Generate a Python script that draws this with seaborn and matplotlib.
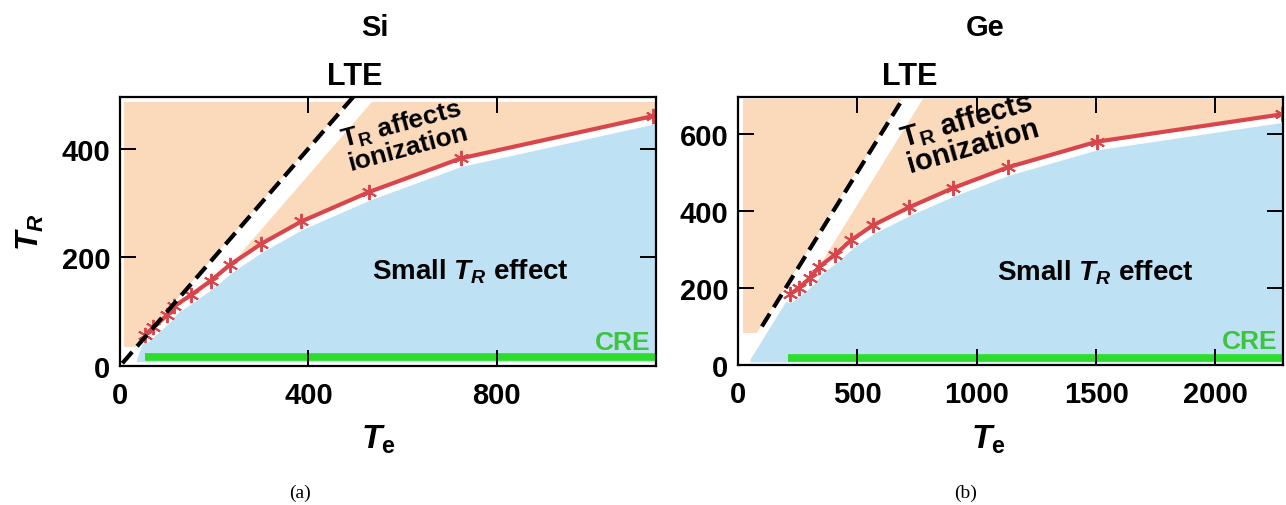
import matplotlib
matplotlib.use("Agg")
import matplotlib.pyplot as plt
from matplotlib.transforms import ScaledTranslation
import seaborn as sns

# Boundary where the radiation temperature T_R starts to affect ionization
si_te = [53, 71, 99, 115, 150, 193, 233, 300, 385, 528, 723, 1132]
si_tr = [57, 71, 93, 110, 130, 157, 186, 225, 266, 320, 382, 460]
ge_te = [218, 255, 302, 340, 406, 472, 564, 717, 901, 1132, 1502, 2277]
ge_tr = [183, 200, 226, 255, 286, 323, 362, 409, 459, 513, 579, 650]

# LTE line (T_R = T_e): drawn T_e span in each panel
si_lte = [5, 500]
ge_lte = [100, 700]

# CRE regime: start of T_e range and T_R level of the bar
si_cre = (53, 16)
ge_cre = (210, 17)

si_xticks = [0, 400, 800]
si_yticks = [0, 200, 400]
ge_xticks = [0, 500, 1000, 1500, 2000]
ge_yticks = [0, 200, 400, 600]

titles = ["Si", "Ge"]
captions = ["(a)", "(b)"]

PEACH = "#FBDABB"
BLUE = "#BEE1F3"
RED = "#D8464C"
GREEN = "#2EDC2E"
CRE_TEXT = "#3DC43D"

sns.set_theme(style="white")
plt.rcParams["font.family"] = ["Liberation Sans", "DejaVu Sans"]
plt.rcParams["font.weight"] = "bold"
plt.rcParams["text.color"] = "black"
plt.rcParams["xtick.color"] = "black"
plt.rcParams["ytick.color"] = "black"
plt.rcParams["mathtext.fontset"] = "custom"
plt.rcParams["mathtext.rm"] = "Liberation Sans:bold"
plt.rcParams["mathtext.it"] = "Liberation Sans:italic:bold"
plt.rcParams["mathtext.bf"] = "Liberation Sans:bold"

W, H = 1286, 506
fig = plt.figure(figsize=(W / 100, H / 100), dpi=100)


def fx(px):
    return px / W


def fy(py):
    return 1 - py / H


ax_si = fig.add_axes([fx(120), fy(367), fx(656) - fx(120), fy(98) - fy(367)])
ax_ge = fig.add_axes([fx(738), fy(366), fx(1283) - fx(738), fy(98) - fy(366)])


def draw_panel(ax, te, tr, lte, cre, xmax, ymax, xticks, yticks,
               corner, floor, top, left, band_shift):
    ax.set_xlim(0, xmax)
    ax.set_ylim(0, ymax)

    # peach background: T_R matters
    ax.fill_between([left, xmax], floor, top, color=PEACH, lw=0, zorder=1)

    # white band running along the LTE diagonal
    shift = ScaledTranslation(band_shift[0] / 72, band_shift[1] / 72, fig.dpi_scale_trans)
    ax.plot([-ymax, 2 * ymax], [-ymax, 2 * ymax], color="white", lw=13,
            solid_capstyle="butt", transform=ax.transData + shift, zorder=2)

    # blue region below the boundary: small T_R effect
    bx = [corner[0]] + te + [xmax]
    by = [corner[1]] + tr + [tr[-1]]
    ax.fill_between(bx, 8, by, color=BLUE, lw=0, zorder=3)

    # white halo under the boundary curve
    down = ScaledTranslation(0, -2.5 / 72, fig.dpi_scale_trans)
    ax.plot(te, tr, color="white", lw=7.5, transform=ax.transData + down,
            solid_joinstyle="round", zorder=4)

    sns.lineplot(x=te, y=tr, ax=ax, color=RED, lw=3, marker=(6, 2, 0),
                 markersize=11, markeredgecolor=RED, markeredgewidth=1.4,
                 sort=False, zorder=6)

    ax.plot(lte, lte, color="black", lw=3, dashes=(3.6, 1.8),
            dash_capstyle="butt", zorder=7)

    ax.plot([cre[0], xmax], [cre[1], cre[1]], color=GREEN, lw=5.5,
            solid_capstyle="butt", zorder=5)

    ax.set_xticks(xticks)
    ax.set_yticks(yticks)
    ax.tick_params(direction="in", length=11.5, width=1.4, bottom=True, left=True,
                   top=True, right=True, labelsize=21, pad=7, colors="black")
    ax.tick_params(axis="x", pad=11)
    ax.xaxis.set_zorder(11)
    ax.yaxis.set_zorder(11)
    for sp in ax.spines.values():
        sp.set_color("black")
        sp.set_linewidth(1.6)
        sp.set_zorder(12)
    ax.set_xlabel("")
    ax.set_ylabel("")


draw_panel(ax_si, si_te, si_tr, si_lte, si_cre, 1138, 495, si_xticks, si_yticks,
           corner=(35, 12), floor=35, top=486, left=8, band_shift=(4.5, -4.0))
draw_panel(ax_ge, ge_te, ge_tr, ge_lte, ge_cre, 2283, 695, ge_xticks, ge_yticks,
           corner=(50, 15), floor=82, top=690, left=20, band_shift=(5.0, -3.0))

# region labels
ax_si.text(0.53, 0.86, "$\\mathrm{T_R}$ affects\nionization", transform=ax_si.transAxes,
           ha="center", va="center", rotation=15, fontsize=19, linespacing=0.9,
           rotation_mode="anchor", zorder=8)
ax_ge.text(0.425, 0.87, "$\\mathrm{T_R}$ affects\nionization", transform=ax_ge.transAxes,
           ha="center", va="center", rotation=16, fontsize=21, linespacing=0.9,
           rotation_mode="anchor", zorder=8)
for ax, x, y in [(ax_si, 0.653, 0.353), (ax_ge, 0.655, 0.349)]:
    ax.text(x, y, "Small $T_R$ effect", transform=ax.transAxes, ha="center",
            va="center", fontsize=20, zorder=8)
    ax.text(0.99, 0.09, "CRE", transform=ax.transAxes, ha="right", va="center",
            fontsize=19, color=CRE_TEXT, zorder=8)

# LTE labels above each panel
fig.text(fx(355), fy(77), "LTE", ha="center", va="center", fontsize=22)
fig.text(fx(910), fy(77), "LTE", ha="center", va="center", fontsize=22)

# titles, axis labels and captions
fig.text(fx(375), fy(28), titles[0], ha="center", va="center", fontsize=21)
fig.text(fx(985), fy(28), titles[1], ha="center", va="center", fontsize=21)
fig.text(fx(30), fy(232), "$T_R$", ha="center", va="center", fontsize=23, rotation=90)
fig.text(fx(378), fy(440), "$T_\\mathrm{e}$", ha="center", va="center", fontsize=24)
fig.text(fx(988), fy(440), "$T_\\mathrm{e}$", ha="center", va="center", fontsize=24)
fig.text(fx(300), fy(493), captions[0], ha="center", va="center", fontsize=14,
         family="Liberation Serif", weight="normal")
fig.text(fx(966), fy(493), captions[1], ha="center", va="center", fontsize=14,
         family="Liberation Serif", weight="normal")

fig.savefig("out.png", dpi=100, facecolor="white")
